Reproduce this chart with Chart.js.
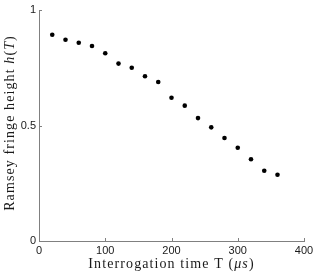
<!DOCTYPE html>
<html>
<head>
<meta charset="utf-8">
<script src="https://cdn.jsdelivr.net/npm/chart.js@4/dist/chart.umd.min.js"></script>
<style>
  html, body { margin: 0; padding: 0; background: #fff; }
  #wrap { width: 317px; height: 273px; }
</style>
</head>
<body>
<div id="wrap"><canvas id="myChart" width="317" height="273"></canvas></div>
<script>
// data
const times = [20, 40, 60, 80, 100, 120, 140, 160, 180, 200, 220, 240, 260, 280, 300, 320, 340, 360];
const heights = [0.893, 0.871, 0.858, 0.844, 0.813, 0.768, 0.750, 0.713, 0.688, 0.620, 0.586, 0.532, 0.492, 0.446, 0.404, 0.354, 0.304, 0.287];
const xTicks = [0, 100, 200, 300, 400];
const yTicks = [0, 0.5, 1];
const yTickLabels = ["0", "0.5", "1"];
const xTitleParts = [
  { text: "Interrogation time T (" },
  { text: "\u03bcs", italic: true },
  { text: ")" },
];
const yTitleParts = [
  { text: "Ramsey fringe height " },
  { text: "h", italic: true },
  { text: "(" },
  { text: "T", italic: true },
  { text: ")" },
];

const axisColor = "#808080";
const textColor = "#1a1a1a";

function partFont(p) {
  return (p.italic ? "italic " : "") + "14px 'Liberation Serif', serif";
}

function drawParts(ctx, parts, cx, cy) {
  ctx.letterSpacing = "1.1px";
  let total = 0;
  parts.forEach((p) => {
    ctx.font = partFont(p);
    total += ctx.measureText(p.text).width;
  });
  let x = cx - total / 2;
  ctx.textAlign = "left";
  ctx.textBaseline = "middle";
  parts.forEach((p) => {
    ctx.font = partFont(p);
    ctx.fillText(p.text, x, cy);
    x += ctx.measureText(p.text).width;
  });
}

// matlab style inward ticks and the two axis titles
const extrasPlugin = {
  id: "extras",
  afterDraw(chart) {
    const ctx = chart.ctx;
    const area = chart.chartArea;
    const xs = chart.scales.x;
    const ys = chart.scales.y;
    ctx.save();
    ctx.strokeStyle = axisColor;
    ctx.lineWidth = 1;
    ctx.beginPath();
    xTicks.forEach((v) => {
      const px = Math.round(xs.getPixelForValue(v)) + 0.5;
      ctx.moveTo(px, area.bottom);
      ctx.lineTo(px, area.bottom - 3);
    });
    yTicks.forEach((v) => {
      const py = Math.round(ys.getPixelForValue(v)) + 0.5;
      ctx.moveTo(area.left, py);
      ctx.lineTo(area.left + 3, py);
    });
    ctx.stroke();

    ctx.fillStyle = textColor;
    drawParts(ctx, xTitleParts, (area.left + area.right) / 2, 264);
    ctx.translate(10, 123);
    ctx.rotate(-Math.PI / 2);
    drawParts(ctx, yTitleParts, 0, 0);
    ctx.restore();
  },
};

const tickFont = { family: "'Liberation Sans', Arial, sans-serif", size: 11 };

const config = {
  type: "scatter",
  data: {
    datasets: [
      {
        data: times.map((t, i) => ({ x: t, y: heights[i] })),
        backgroundColor: "#000",
        borderWidth: 0,
        pointRadius: 2.3,
      },
    ],
  },
  options: {
    responsive: false,
    animation: false,
    layout: { padding: { top: 10, right: 13, left: 0, bottom: 0 } },
    plugins: { legend: { display: false }, tooltip: { enabled: false } },
    scales: {
      x: {
        type: "linear",
        min: 0,
        max: 400,
        afterBuildTicks: (scale) => {
          scale.ticks = xTicks.map((v) => ({ value: v }));
        },
        afterFit: (scale) => {
          scale.height = 32;
        },
        grid: { display: false, drawTicks: false },
        border: { display: true, color: axisColor },
        ticks: { color: textColor, font: tickFont, padding: 3, maxRotation: 0 },
      },
      y: {
        type: "linear",
        min: 0,
        max: 1,
        afterBuildTicks: (scale) => {
          scale.ticks = yTicks.map((v) => ({ value: v }));
        },
        afterFit: (scale) => {
          scale.width = 39;
        },
        grid: { display: false, drawTicks: false },
        border: { display: true, color: axisColor },
        ticks: {
          color: textColor,
          font: tickFont,
          padding: 3,
          callback: (v) => yTickLabels[yTicks.indexOf(v)],
        },
      },
    },
  },
  plugins: [extrasPlugin],
};

new Chart(document.getElementById("myChart"), config);
</script>
</body>
</html>
